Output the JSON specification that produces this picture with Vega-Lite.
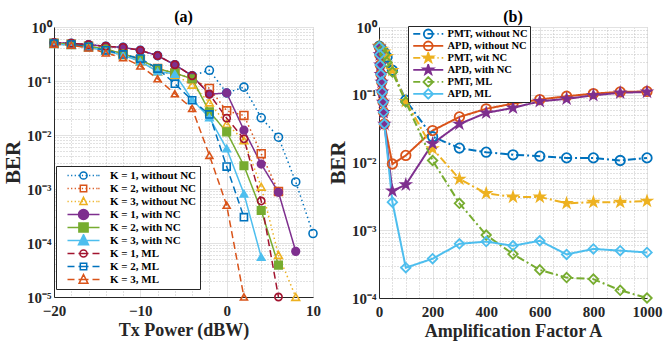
{
  "$schema": "https://vega.github.io/schema/vega-lite/v6.json",
  "padding": {"left": 2, "top": 8, "right": 0, "bottom": 0},
  "spacing": 6,
  "config": {
    "font": "Liberation Serif",
    "view": {"stroke": "#bdbdbd"},
    "title": {"font": "Liberation Serif", "fontSize": 16, "fontWeight": "bold", "color": "black", "offset": 0, "dy": 9, "frame": "group"},
    "axis": {
      "labelFont": "Liberation Serif", "labelFontWeight": "bold", "labelFontSize": 15, "labelColor": "#262626",
      "titleFont": "Liberation Serif", "titleFontWeight": "bold", "titleColor": "#262626",
      "domainColor": "#262626", "domainWidth": 1, "gridColor": "#e2e2e2", "gridWidth": 1,
      "labelFlush": false, "labelOverlap": false
    }
  },
  "resolve": {"scale": {"x": "independent", "y": "independent", "stroke": "independent", "fill": "independent", "shape": "independent", "size": "independent", "strokeDash": "independent", "strokeWidth": "independent"}},
  "datasets": {
    "a": [
      {"s": "K = 1, without NC", "x": -20, "ber": 0.51}, {"s": "K = 1, without NC", "x": -18, "ber": 0.5}, {"s": "K = 1, without NC", "x": -16, "ber": 0.47}, {"s": "K = 1, without NC", "x": -14, "ber": 0.44}, {"s": "K = 1, without NC", "x": -12, "ber": 0.42}, {"s": "K = 1, without NC", "x": -10, "ber": 0.37}, {"s": "K = 1, without NC", "x": -8, "ber": 0.295}, {"s": "K = 1, without NC", "x": -6, "ber": 0.2}, {"s": "K = 1, without NC", "x": -4, "ber": 0.125}, {"s": "K = 1, without NC", "x": -2, "ber": 0.158}, {"s": "K = 1, without NC", "x": 0, "ber": 0.06}, {"s": "K = 1, without NC", "x": 2, "ber": 0.077}, {"s": "K = 1, without NC", "x": 4, "ber": 0.0208}, {"s": "K = 1, without NC", "x": 6, "ber": 0.0091}, {"s": "K = 1, without NC", "x": 8, "ber": 0.00135}, {"s": "K = 1, without NC", "x": 10, "ber": 0.00015},
      {"s": "K = 2, without NC", "x": -20, "ber": 0.5}, {"s": "K = 2, without NC", "x": -18, "ber": 0.48}, {"s": "K = 2, without NC", "x": -16, "ber": 0.44}, {"s": "K = 2, without NC", "x": -14, "ber": 0.39}, {"s": "K = 2, without NC", "x": -12, "ber": 0.32}, {"s": "K = 2, without NC", "x": -10, "ber": 0.25}, {"s": "K = 2, without NC", "x": -8, "ber": 0.17}, {"s": "K = 2, without NC", "x": -6, "ber": 0.14}, {"s": "K = 2, without NC", "x": -4, "ber": 0.11}, {"s": "K = 2, without NC", "x": -2, "ber": 0.073}, {"s": "K = 2, without NC", "x": 0, "ber": 0.028}, {"s": "K = 2, without NC", "x": 2, "ber": 0.023}, {"s": "K = 2, without NC", "x": 4, "ber": 0.0045}, {"s": "K = 2, without NC", "x": 6, "ber": 0.0009},
      {"s": "K = 3, without NC", "x": -20, "ber": 0.48}, {"s": "K = 3, without NC", "x": -18, "ber": 0.46}, {"s": "K = 3, without NC", "x": -16, "ber": 0.42}, {"s": "K = 3, without NC", "x": -14, "ber": 0.36}, {"s": "K = 3, without NC", "x": -12, "ber": 0.3}, {"s": "K = 3, without NC", "x": -10, "ber": 0.23}, {"s": "K = 3, without NC", "x": -8, "ber": 0.15}, {"s": "K = 3, without NC", "x": -6, "ber": 0.13}, {"s": "K = 3, without NC", "x": -4, "ber": 0.085}, {"s": "K = 3, without NC", "x": -2, "ber": 0.04}, {"s": "K = 3, without NC", "x": 0, "ber": 0.016}, {"s": "K = 3, without NC", "x": 2, "ber": 0.008}, {"s": "K = 3, without NC", "x": 4, "ber": 0.0011}, {"s": "K = 3, without NC", "x": 6, "ber": 0.00006}, {"s": "K = 3, without NC", "x": 8, "ber": 0.00001},
      {"s": "K = 1, with NC", "x": -20, "ber": 0.51}, {"s": "K = 1, with NC", "x": -18, "ber": 0.5}, {"s": "K = 1, with NC", "x": -16, "ber": 0.47}, {"s": "K = 1, with NC", "x": -14, "ber": 0.44}, {"s": "K = 1, with NC", "x": -12, "ber": 0.42}, {"s": "K = 1, with NC", "x": -10, "ber": 0.37}, {"s": "K = 1, with NC", "x": -8, "ber": 0.295}, {"s": "K = 1, with NC", "x": -6, "ber": 0.2}, {"s": "K = 1, with NC", "x": -4, "ber": 0.125}, {"s": "K = 1, with NC", "x": -2, "ber": 0.057}, {"s": "K = 1, with NC", "x": 0, "ber": 0.06}, {"s": "K = 1, with NC", "x": 2, "ber": 0.0123}, {"s": "K = 1, with NC", "x": 4, "ber": 0.0029}, {"s": "K = 1, with NC", "x": 6, "ber": 0.00087}, {"s": "K = 1, with NC", "x": 8, "ber": 0.00007},
      {"s": "K = 2, with NC", "x": -20, "ber": 0.5}, {"s": "K = 2, with NC", "x": -18, "ber": 0.48}, {"s": "K = 2, with NC", "x": -16, "ber": 0.44}, {"s": "K = 2, with NC", "x": -14, "ber": 0.39}, {"s": "K = 2, with NC", "x": -12, "ber": 0.32}, {"s": "K = 2, with NC", "x": -10, "ber": 0.25}, {"s": "K = 2, with NC", "x": -8, "ber": 0.17}, {"s": "K = 2, with NC", "x": -6, "ber": 0.14}, {"s": "K = 2, with NC", "x": -4, "ber": 0.11}, {"s": "K = 2, with NC", "x": -2, "ber": 0.027}, {"s": "K = 2, with NC", "x": 0, "ber": 0.0114}, {"s": "K = 2, with NC", "x": 2, "ber": 0.0027}, {"s": "K = 2, with NC", "x": 4, "ber": 0.0004}, {"s": "K = 2, with NC", "x": 6, "ber": 0.000039},
      {"s": "K = 3, with NC", "x": -20, "ber": 0.48}, {"s": "K = 3, with NC", "x": -18, "ber": 0.46}, {"s": "K = 3, with NC", "x": -16, "ber": 0.42}, {"s": "K = 3, with NC", "x": -14, "ber": 0.36}, {"s": "K = 3, with NC", "x": -12, "ber": 0.3}, {"s": "K = 3, with NC", "x": -10, "ber": 0.23}, {"s": "K = 3, with NC", "x": -8, "ber": 0.15}, {"s": "K = 3, with NC", "x": -6, "ber": 0.135}, {"s": "K = 3, with NC", "x": -4, "ber": 0.045}, {"s": "K = 3, with NC", "x": -2, "ber": 0.021}, {"s": "K = 3, with NC", "x": 0, "ber": 0.0056}, {"s": "K = 3, with NC", "x": 2, "ber": 0.00082}, {"s": "K = 3, with NC", "x": 4, "ber": 0.000055},
      {"s": "K = 1, ML", "x": -20, "ber": 0.51}, {"s": "K = 1, ML", "x": -18, "ber": 0.5}, {"s": "K = 1, ML", "x": -16, "ber": 0.47}, {"s": "K = 1, ML", "x": -14, "ber": 0.44}, {"s": "K = 1, ML", "x": -12, "ber": 0.42}, {"s": "K = 1, ML", "x": -10, "ber": 0.37}, {"s": "K = 1, ML", "x": -8, "ber": 0.295}, {"s": "K = 1, ML", "x": -6, "ber": 0.2}, {"s": "K = 1, ML", "x": -4, "ber": 0.125}, {"s": "K = 1, ML", "x": -2, "ber": 0.057}, {"s": "K = 1, ML", "x": 0, "ber": 0.0205}, {"s": "K = 1, ML", "x": 2, "ber": 0.0085}, {"s": "K = 1, ML", "x": 4, "ber": 0.0006}, {"s": "K = 1, ML", "x": 6, "ber": 0.00001},
      {"s": "K = 2, ML", "x": -20, "ber": 0.49}, {"s": "K = 2, ML", "x": -18, "ber": 0.47}, {"s": "K = 2, ML", "x": -16, "ber": 0.43}, {"s": "K = 2, ML", "x": -14, "ber": 0.37}, {"s": "K = 2, ML", "x": -12, "ber": 0.31}, {"s": "K = 2, ML", "x": -10, "ber": 0.26}, {"s": "K = 2, ML", "x": -8, "ber": 0.17}, {"s": "K = 2, ML", "x": -6, "ber": 0.089}, {"s": "K = 2, ML", "x": -4, "ber": 0.044}, {"s": "K = 2, ML", "x": -2, "ber": 0.024}, {"s": "K = 2, ML", "x": 0, "ber": 0.0026}, {"s": "K = 2, ML", "x": 2, "ber": 0.0003},
      {"s": "K = 3, ML", "x": -20, "ber": 0.48}, {"s": "K = 3, ML", "x": -18, "ber": 0.46}, {"s": "K = 3, ML", "x": -16, "ber": 0.41}, {"s": "K = 3, ML", "x": -14, "ber": 0.33}, {"s": "K = 3, ML", "x": -12, "ber": 0.27}, {"s": "K = 3, ML", "x": -10, "ber": 0.19}, {"s": "K = 3, ML", "x": -8, "ber": 0.11}, {"s": "K = 3, ML", "x": -6, "ber": 0.058}, {"s": "K = 3, ML", "x": -4, "ber": 0.031}, {"s": "K = 3, ML", "x": -2, "ber": 0.0042}, {"s": "K = 3, ML", "x": 0, "ber": 0.0005}, {"s": "K = 3, ML", "x": 2, "ber": 0.00001}
    ],
    "b": [
      {"s": "PMT, without NC", "a": 1, "ber": 0.52}, {"s": "PMT, without NC", "a": 10, "ber": 0.47}, {"s": "PMT, without NC", "a": 20, "ber": 0.42}, {"s": "PMT, without NC", "a": 30, "ber": 0.36}, {"s": "PMT, without NC", "a": 50, "ber": 0.23}, {"s": "PMT, without NC", "a": 100, "ber": 0.083}, {"s": "PMT, without NC", "a": 200, "ber": 0.024}, {"s": "PMT, without NC", "a": 300, "ber": 0.0163}, {"s": "PMT, without NC", "a": 400, "ber": 0.0142}, {"s": "PMT, without NC", "a": 500, "ber": 0.013}, {"s": "PMT, without NC", "a": 600, "ber": 0.0124}, {"s": "PMT, without NC", "a": 700, "ber": 0.0117}, {"s": "PMT, without NC", "a": 800, "ber": 0.0117}, {"s": "PMT, without NC", "a": 900, "ber": 0.0107}, {"s": "PMT, without NC", "a": 1000, "ber": 0.0117},
      {"s": "APD, without NC", "a": 1, "ber": 0.51}, {"s": "APD, without NC", "a": 3, "ber": 0.39}, {"s": "APD, without NC", "a": 5, "ber": 0.275}, {"s": "APD, without NC", "a": 7, "ber": 0.2}, {"s": "APD, without NC", "a": 10, "ber": 0.154}, {"s": "APD, without NC", "a": 12, "ber": 0.11}, {"s": "APD, without NC", "a": 15, "ber": 0.078}, {"s": "APD, without NC", "a": 17, "ber": 0.055}, {"s": "APD, without NC", "a": 20, "ber": 0.037}, {"s": "APD, without NC", "a": 50, "ber": 0.0095}, {"s": "APD, without NC", "a": 100, "ber": 0.0127}, {"s": "APD, without NC", "a": 200, "ber": 0.0296}, {"s": "APD, without NC", "a": 300, "ber": 0.047}, {"s": "APD, without NC", "a": 400, "ber": 0.062}, {"s": "APD, without NC", "a": 500, "ber": 0.074}, {"s": "APD, without NC", "a": 600, "ber": 0.085}, {"s": "APD, without NC", "a": 700, "ber": 0.095}, {"s": "APD, without NC", "a": 800, "ber": 0.104}, {"s": "APD, without NC", "a": 900, "ber": 0.11}, {"s": "APD, without NC", "a": 1000, "ber": 0.112},
      {"s": "PMT, wit NC", "a": 1, "ber": 0.52}, {"s": "PMT, wit NC", "a": 10, "ber": 0.47}, {"s": "PMT, wit NC", "a": 20, "ber": 0.43}, {"s": "PMT, wit NC", "a": 30, "ber": 0.37}, {"s": "PMT, wit NC", "a": 50, "ber": 0.23}, {"s": "PMT, wit NC", "a": 100, "ber": 0.08}, {"s": "PMT, wit NC", "a": 200, "ber": 0.016}, {"s": "PMT, wit NC", "a": 300, "ber": 0.0057}, {"s": "PMT, wit NC", "a": 400, "ber": 0.0035}, {"s": "PMT, wit NC", "a": 500, "ber": 0.0031}, {"s": "PMT, wit NC", "a": 600, "ber": 0.0031}, {"s": "PMT, wit NC", "a": 700, "ber": 0.0025}, {"s": "PMT, wit NC", "a": 800, "ber": 0.0026}, {"s": "PMT, wit NC", "a": 900, "ber": 0.0026}, {"s": "PMT, wit NC", "a": 1000, "ber": 0.0027},
      {"s": "APD, with NC", "a": 1, "ber": 0.51}, {"s": "APD, with NC", "a": 3, "ber": 0.39}, {"s": "APD, with NC", "a": 5, "ber": 0.275}, {"s": "APD, with NC", "a": 7, "ber": 0.2}, {"s": "APD, with NC", "a": 10, "ber": 0.154}, {"s": "APD, with NC", "a": 12, "ber": 0.11}, {"s": "APD, with NC", "a": 15, "ber": 0.078}, {"s": "APD, with NC", "a": 17, "ber": 0.055}, {"s": "APD, with NC", "a": 20, "ber": 0.037}, {"s": "APD, with NC", "a": 50, "ber": 0.0038}, {"s": "APD, with NC", "a": 100, "ber": 0.0047}, {"s": "APD, with NC", "a": 200, "ber": 0.019}, {"s": "APD, with NC", "a": 300, "ber": 0.037}, {"s": "APD, with NC", "a": 400, "ber": 0.054}, {"s": "APD, with NC", "a": 500, "ber": 0.064}, {"s": "APD, with NC", "a": 600, "ber": 0.08}, {"s": "APD, with NC", "a": 700, "ber": 0.087}, {"s": "APD, with NC", "a": 800, "ber": 0.098}, {"s": "APD, with NC", "a": 900, "ber": 0.107}, {"s": "APD, with NC", "a": 1000, "ber": 0.11},
      {"s": "PMT, ML", "a": 1, "ber": 0.52}, {"s": "PMT, ML", "a": 10, "ber": 0.46}, {"s": "PMT, ML", "a": 20, "ber": 0.39}, {"s": "PMT, ML", "a": 30, "ber": 0.3}, {"s": "PMT, ML", "a": 50, "ber": 0.216}, {"s": "PMT, ML", "a": 100, "ber": 0.078}, {"s": "PMT, ML", "a": 200, "ber": 0.0107}, {"s": "PMT, ML", "a": 300, "ber": 0.0025}, {"s": "PMT, ML", "a": 400, "ber": 0.00085}, {"s": "PMT, ML", "a": 500, "ber": 0.000445}, {"s": "PMT, ML", "a": 600, "ber": 0.00026}, {"s": "PMT, ML", "a": 700, "ber": 0.0002}, {"s": "PMT, ML", "a": 800, "ber": 0.00019}, {"s": "PMT, ML", "a": 900, "ber": 0.00013}, {"s": "PMT, ML", "a": 1000, "ber": 0.0001},
      {"s": "APD, ML", "a": 1, "ber": 0.51}, {"s": "APD, ML", "a": 3, "ber": 0.39}, {"s": "APD, ML", "a": 5, "ber": 0.275}, {"s": "APD, ML", "a": 7, "ber": 0.2}, {"s": "APD, ML", "a": 10, "ber": 0.154}, {"s": "APD, ML", "a": 12, "ber": 0.11}, {"s": "APD, ML", "a": 15, "ber": 0.078}, {"s": "APD, ML", "a": 17, "ber": 0.055}, {"s": "APD, ML", "a": 20, "ber": 0.037}, {"s": "APD, ML", "a": 50, "ber": 0.0026}, {"s": "APD, ML", "a": 100, "ber": 0.00028}, {"s": "APD, ML", "a": 200, "ber": 0.00038}, {"s": "APD, ML", "a": 300, "ber": 0.00063}, {"s": "APD, ML", "a": 400, "ber": 0.00068}, {"s": "APD, ML", "a": 500, "ber": 0.00059}, {"s": "APD, ML", "a": 600, "ber": 0.0007}, {"s": "APD, ML", "a": 700, "ber": 0.00044}, {"s": "APD, ML", "a": 800, "ber": 0.00053}, {"s": "APD, ML", "a": 900, "ber": 0.0005}, {"s": "APD, ML", "a": 1000, "ber": 0.00047}
    ]
  },
  "hconcat": [
    {
      "width": 259, "height": 270,
      "data": {"name": "a"},
      "title": {"text": "(a)"},
      "layer": [
        {
          "mark": {"type": "point", "opacity": 0},
          "encoding": {
            "x": {"field": "x", "type": "quantitative", "scale": {"domain": [-20, 10], "nice": false, "zero": false},
              "axis": {"orient": "bottom", "values": [-18, -16, -14, -12, -8, -6, -4, -2, 2, 4, 6, 8], "grid": true, "gridDash": [1, 2], "gridColor": "#c2c2c2", "labels": false, "ticks": false, "domain": false, "title": null}},
            "y": {"field": "ber", "type": "quantitative", "scale": {"type": "log", "domain": [0.00001, 1], "nice": false},
              "axis": {"orient": "left", "values": [0.00002, 0.00003, 0.00004, 0.00005, 0.00006, 0.00007, 0.00008, 0.00009, 0.0002, 0.0003, 0.0004, 0.0005, 0.0006, 0.0007, 0.0008, 0.0009, 0.002, 0.003, 0.004, 0.005, 0.006, 0.007, 0.008, 0.009, 0.02, 0.03, 0.04, 0.05, 0.06, 0.07, 0.08, 0.09, 0.2, 0.3, 0.4, 0.5, 0.6, 0.7, 0.8, 0.9], "grid": true, "gridDash": [1, 2], "gridColor": "#c2c2c2", "labels": false, "ticks": false, "domain": false, "title": null}}
          }
        },
        {
          "mark": {"type": "line"},
          "encoding": {
            "x": {"field": "x", "type": "quantitative", "scale": {"domain": [-20, 10], "nice": false, "zero": false},
              "axis": {"orient": "bottom", "values": [-20, -10, 0, 10], "grid": true, "title": "Tx Power (dBW)", "titleFontSize": 18, "labelPadding": 6, "titlePadding": 3, "ticks": false}},
            "y": {"field": "ber", "type": "quantitative", "scale": {"type": "log", "domain": [0.00001, 1], "nice": false},
              "axis": {"orient": "left", "values": [0.00001, 0.0001, 0.001, 0.01, 0.1, 1], "grid": true, "title": "BER", "titleFontSize": 21, "labelPadding": 3, "titlePadding": 3, "ticks": false,
                "labelExpr": "'10' + ['⁰','⁻¹','⁻²','⁻³','⁻⁴','⁻⁵'][round(-log(datum.value)/LN10)]"}},
            "stroke": {"field": "s", "type": "nominal", "legend": null,
              "scale": {"domain": ["K = 1, without NC", "K = 2, without NC", "K = 3, without NC", "K = 1, with NC", "K = 2, with NC", "K = 3, with NC", "K = 1, ML", "K = 2, ML", "K = 3, ML"],
                "range": ["#0072BD", "#D95319", "#EDB120", "#7E2F8E", "#77AC30", "#4DBEEE", "#A2142F", "#0072BD", "#D95319"]}},
            "strokeDash": {"field": "s", "type": "nominal", "legend": null,
              "scale": {"domain": ["K = 1, without NC", "K = 2, without NC", "K = 3, without NC", "K = 1, with NC", "K = 2, with NC", "K = 3, with NC", "K = 1, ML", "K = 2, ML", "K = 3, ML"],
                "range": [[1.5, 3], [1.5, 3], [1.5, 3], [1, 0], [1, 0], [1, 0], [7, 4], [7, 4], [7, 4]]}},
            "strokeWidth": {"field": "s", "type": "nominal", "legend": null,
              "scale": {"domain": ["K = 1, without NC", "K = 2, without NC", "K = 3, without NC", "K = 1, with NC", "K = 2, with NC", "K = 3, with NC", "K = 1, ML", "K = 2, ML", "K = 3, ML"],
                "range": [1.5, 1.5, 1.5, 3.2, 3.2, 3.2, 2.5, 2.5, 2.5]}}
          }
        },
        {
          "mark": {"type": "point", "opacity": 1, "strokeWidth": 1.6},
          "encoding": {
            "x": {"field": "x", "type": "quantitative", "axis": null},
            "y": {"field": "ber", "type": "quantitative", "axis": null},
            "stroke": {"field": "s", "type": "nominal", "legend": null,
              "scale": {"domain": ["K = 1, without NC", "K = 2, without NC", "K = 3, without NC", "K = 1, with NC", "K = 2, with NC", "K = 3, with NC", "K = 1, ML", "K = 2, ML", "K = 3, ML"],
                "range": ["#0072BD", "#D95319", "#EDB120", "#7E2F8E", "#77AC30", "#4DBEEE", "#A2142F", "#0072BD", "#D95319"]}},
            "fill": {"field": "s", "type": "nominal", "legend": null,
              "scale": {"domain": ["K = 1, without NC", "K = 2, without NC", "K = 3, without NC", "K = 1, with NC", "K = 2, with NC", "K = 3, with NC", "K = 1, ML", "K = 2, ML", "K = 3, ML"],
                "range": ["transparent", "transparent", "transparent", "#7E2F8E", "#77AC30", "#4DBEEE", "transparent", "transparent", "transparent"]}},
            "shape": {"field": "s", "type": "nominal", "legend": null,
              "scale": {"domain": ["K = 1, without NC", "K = 2, without NC", "K = 3, without NC", "K = 1, with NC", "K = 2, with NC", "K = 3, with NC", "K = 1, ML", "K = 2, ML", "K = 3, ML"],
                "range": ["circle", "square", "triangle-up", "circle", "square", "triangle-up", "circle", "square", "triangle-up"]}},
            "size": {"field": "s", "type": "nominal", "legend": null,
              "scale": {"domain": ["K = 1, without NC", "K = 2, without NC", "K = 3, without NC", "K = 1, with NC", "K = 2, with NC", "K = 3, with NC", "K = 1, ML", "K = 2, ML", "K = 3, ML"],
                "range": [64, 49, 64, 121, 100, 144, 64, 49, 100]}}
          }
        },
        {
          "transform": [{"filter": "datum.x == -10"}],
          "mark": {"type": "point", "opacity": 0, "filled": false, "size": 16},
          "encoding": {
            "x": {"field": "x", "type": "quantitative", "axis": null},
            "y": {"field": "ber", "type": "quantitative", "axis": null},
            "stroke": {"field": "s", "type": "nominal",
              "scale": {"domain": ["K = 1, without NC", "K = 2, without NC", "K = 3, without NC", "K = 1, with NC", "K = 2, with NC", "K = 3, with NC", "K = 1, ML", "K = 2, ML", "K = 3, ML"],
                "range": ["#0072BD", "#D95319", "#EDB120", "#7E2F8E", "#77AC30", "#4DBEEE", "#A2142F", "#0072BD", "#D95319"]},
              "legend": {
                "orient": "none", "legendX": 2, "legendY": 139, "title": null,
                "symbolSize": 16, "symbolOffset": 5, "symbolStrokeWidth": 1.5, "symbolOpacity": 1, "labelOffset": 35, "padding": 3, "rowPadding": 0, "clipHeight": 13,
                "fillColor": "white", "strokeColor": "#262626", "cornerRadius": 0,
                "labelFont": "Liberation Serif", "labelFontSize": 11, "labelFontWeight": "bold", "labelColor": "black", "labelLimit": 300
              }},
            "shape": {"field": "s", "type": "nominal", "legend": {"symbolOpacity": 1},
              "scale": {"domain": ["K = 1, without NC", "K = 2, without NC", "K = 3, without NC", "K = 1, with NC", "K = 2, with NC", "K = 3, with NC", "K = 1, ML", "K = 2, ML", "K = 3, ML"],
                "range": ["M-1,0h0.6M0.8,0h0.6M2.6,0h0.6M4.4,0h0.6M6.2,0h0.6M8,0h0.6M9.8,0h0.6M11.6,0h0.6M13.4,0h0.6M14.4,0h0.6M5.2,0A1.8,1.8 0 1,0 8.8,0A1.8,1.8 0 1,0 5.2,0Z", "M-1,0h0.6M0.8,0h0.6M2.6,0h0.6M4.4,0h0.6M6.2,0h0.6M8,0h0.6M9.8,0h0.6M11.6,0h0.6M13.4,0h0.6M14.4,0h0.6M5.4,-1.6H8.6V1.6H5.4Z", "M-1,0h0.6M0.8,0h0.6M2.6,0h0.6M4.4,0h0.6M6.2,0h0.6M8,0h0.6M9.8,0h0.6M11.6,0h0.6M13.4,0h0.6M14.4,0h0.6M7,-2.1L8.8,1.5L5.2,1.5Z", "M-1,0H15M4.5,0A2.5,2.5 0 1,0 9.5,0A2.5,2.5 0 1,0 4.5,0Z", "M-1,0H15M4.7,-2.3H9.3V2.3H4.7Z", "M-1,0H15M7,-2.9L9.5,2.1L4.5,2.1Z", "M-1,0H2.5M4.5,0H9.5M11.5,0H15M5.2,0A1.8,1.8 0 1,0 8.8,0A1.8,1.8 0 1,0 5.2,0Z", "M-1,0H2.5M4.5,0H9.5M11.5,0H15M5.4,-1.6H8.6V1.6H5.4Z", "M-1,0H2.5M4.5,0H9.5M11.5,0H15M7,-2.5L9.2,1.9L4.8,1.9Z"]}},
            "fill": {"field": "s", "type": "nominal", "legend": {"symbolOpacity": 1},
              "scale": {"domain": ["K = 1, without NC", "K = 2, without NC", "K = 3, without NC", "K = 1, with NC", "K = 2, with NC", "K = 3, with NC", "K = 1, ML", "K = 2, ML", "K = 3, ML"],
                "range": ["transparent", "transparent", "transparent", "#7E2F8E", "#77AC30", "#4DBEEE", "transparent", "transparent", "transparent"]}},
            "strokeWidth": {"field": "s", "type": "nominal", "legend": {"symbolOpacity": 1},
              "scale": {"domain": ["K = 1, without NC", "K = 2, without NC", "K = 3, without NC", "K = 1, with NC", "K = 2, with NC", "K = 3, with NC", "K = 1, ML", "K = 2, ML", "K = 3, ML"],
                "range": [1.5, 1.5, 1.5, 3, 3, 3, 2.5, 2.5, 2.5]}}
          }
        }
      ],
      "resolve": {"axis": {"x": "independent", "y": "independent"}, "scale": {"stroke": "independent", "fill": "independent", "shape": "independent", "strokeWidth": "independent", "size": "independent", "strokeDash": "independent"}}
    },
    {
      "width": 268, "height": 271,
      "data": {"name": "b"},
      "title": {"text": "(b)"},
      "layer": [
        {
          "mark": {"type": "point", "opacity": 0},
          "encoding": {
            "x": {"field": "a", "type": "quantitative", "scale": {"domain": [0, 1000], "nice": false},
              "axis": {"orient": "bottom", "values": [50, 100, 150, 250, 300, 350, 450, 500, 550, 650, 700, 750, 850, 900, 950], "grid": true, "gridDash": [1, 2], "gridColor": "#c2c2c2", "labels": false, "ticks": false, "domain": false, "title": null}},
            "y": {"field": "ber", "type": "quantitative", "scale": {"type": "log", "domain": [0.0001, 1], "nice": false},
              "axis": {"orient": "left", "values": [0.0002, 0.0003, 0.0004, 0.0005, 0.0006, 0.0007, 0.0008, 0.0009, 0.002, 0.003, 0.004, 0.005, 0.006, 0.007, 0.008, 0.009, 0.02, 0.03, 0.04, 0.05, 0.06, 0.07, 0.08, 0.09, 0.2, 0.3, 0.4, 0.5, 0.6, 0.7, 0.8, 0.9], "grid": true, "gridDash": [1, 2], "gridColor": "#c2c2c2", "labels": false, "ticks": false, "domain": false, "title": null}}
          }
        },
        {
          "mark": {"type": "line"},
          "encoding": {
            "x": {"field": "a", "type": "quantitative", "scale": {"domain": [0, 1000], "nice": false},
              "axis": {"orient": "bottom", "values": [0, 200, 400, 600, 800, 1000], "format": "d", "grid": true, "title": "Amplification Factor A", "titleFontSize": 18, "labelPadding": 6, "titlePadding": 3, "ticks": false}},
            "y": {"field": "ber", "type": "quantitative", "scale": {"type": "log", "domain": [0.0001, 1], "nice": false},
              "axis": {"orient": "left", "values": [0.0001, 0.001, 0.01, 0.1, 1], "grid": true, "title": "BER", "titleFontSize": 21, "labelPadding": 3, "titlePadding": 3, "ticks": false,
                "labelExpr": "'10' + ['⁰','⁻¹','⁻²','⁻³','⁻⁴','⁻⁵'][round(-log(datum.value)/LN10)]"}},
            "stroke": {"field": "s", "type": "nominal", "legend": null,
              "scale": {"domain": ["PMT, without NC", "APD, without NC", "PMT, wit NC", "APD, with NC", "PMT, ML", "APD, ML"],
                "range": ["#0072BD", "#D95319", "#EDB120", "#7E2F8E", "#77AC30", "#4DBEEE"]}},
            "strokeDash": {"field": "s", "type": "nominal", "legend": null,
              "scale": {"domain": ["PMT, without NC", "APD, without NC", "PMT, wit NC", "APD, with NC", "PMT, ML", "APD, ML"],
                "range": [[8, 3, 2, 3], [1, 0], [8, 3, 2, 3], [1, 0], [8, 3, 2, 3], [1, 0]]}},
            "strokeWidth": {"field": "s", "type": "nominal", "legend": null,
              "scale": {"domain": ["PMT, without NC", "APD, without NC", "PMT, wit NC", "APD, with NC", "PMT, ML", "APD, ML"],
                "range": [2, 2, 2, 2, 2, 2]}}
          }
        },
        {
          "mark": {"type": "point", "opacity": 1, "strokeWidth": 1.8},
          "encoding": {
            "x": {"field": "a", "type": "quantitative", "axis": null},
            "y": {"field": "ber", "type": "quantitative", "axis": null},
            "stroke": {"field": "s", "type": "nominal", "legend": null,
              "scale": {"domain": ["PMT, without NC", "APD, without NC", "PMT, wit NC", "APD, with NC", "PMT, ML", "APD, ML"],
                "range": ["#0072BD", "#D95319", "#EDB120", "#7E2F8E", "#77AC30", "#4DBEEE"]}},
            "fill": {"field": "s", "type": "nominal", "legend": null,
              "scale": {"domain": ["PMT, without NC", "APD, without NC", "PMT, wit NC", "APD, with NC", "PMT, ML", "APD, ML"],
                "range": ["transparent", "transparent", "#EDB120", "#7E2F8E", "transparent", "transparent"]}},
            "shape": {"field": "s", "type": "nominal", "legend": null,
              "scale": {"domain": ["PMT, without NC", "APD, without NC", "PMT, wit NC", "APD, with NC", "PMT, ML", "APD, ML"],
                "range": ["circle", "circle", "M0,-1L0.225,-0.309L0.951,-0.309L0.363,0.118L0.588,0.809L0,0.382L-0.588,0.809L-0.363,0.118L-0.951,-0.309L-0.225,-0.309Z", "M0,-1L0.225,-0.309L0.951,-0.309L0.363,0.118L0.588,0.809L0,0.382L-0.588,0.809L-0.363,0.118L-0.951,-0.309L-0.225,-0.309Z", "diamond", "diamond"]}},
            "size": {"field": "s", "type": "nominal", "legend": null,
              "scale": {"domain": ["PMT, without NC", "APD, without NC", "PMT, wit NC", "APD, with NC", "PMT, ML", "APD, ML"],
                "range": [90, 90, 190, 190, 100, 100]}}
          }
        },
        {
          "transform": [{"filter": "datum.a == 200"}],
          "mark": {"type": "point", "opacity": 0, "filled": false, "size": 16},
          "encoding": {
            "x": {"field": "a", "type": "quantitative", "axis": null},
            "y": {"field": "ber", "type": "quantitative", "axis": null},
            "stroke": {"field": "s", "type": "nominal",
              "scale": {"domain": ["PMT, without NC", "APD, without NC", "PMT, wit NC", "APD, with NC", "PMT, ML", "APD, ML"],
                "range": ["#0072BD", "#D95319", "#EDB120", "#7E2F8E", "#77AC30", "#4DBEEE"]},
              "legend": {
                "orient": "none", "legendX": 29, "legendY": -1, "title": null,
                "symbolSize": 16, "symbolOffset": 0, "symbolStrokeWidth": 1.8, "symbolOpacity": 1, "labelOffset": 27, "padding": 2, "rowPadding": 0, "clipHeight": 11.8,
                "fillColor": "white", "strokeColor": "#262626", "cornerRadius": 0,
                "labelFont": "Liberation Serif", "labelFontSize": 10.5, "labelFontWeight": "bold", "labelColor": "black", "labelLimit": 300
              }},
            "shape": {"field": "s", "type": "nominal", "legend": {"symbolOpacity": 1},
              "scale": {"domain": ["PMT, without NC", "APD, without NC", "PMT, wit NC", "APD, with NC", "PMT, ML", "APD, ML"],
                "range": ["M-1,0H2.5M4,0H4.6M6.1,0H9.6M11.1,0H11.7M13.2,0H14M4.3,0A2.2,2.2 0 1,0 8.7,0A2.2,2.2 0 1,0 4.3,0Z", "M-1,0H14M4.3,0A2.2,2.2 0 1,0 8.7,0A2.2,2.2 0 1,0 4.3,0Z", "M-1,0H2.5M4,0H4.6M6.1,0H9.6M11.1,0H11.7M13.2,0H14M6.5,-2.6L7.09,-0.8L8.97,-0.8L7.44,0.31L8.03,2.1L6.5,0.99L4.97,2.1L5.56,0.31L4.03,-0.8L5.92,-0.8Z", "M-1,0H14M6.5,-2.6L7.09,-0.8L8.97,-0.8L7.44,0.31L8.03,2.1L6.5,0.99L4.97,2.1L5.56,0.31L4.03,-0.8L5.92,-0.8Z", "M-1,0H2.5M4,0H4.6M6.1,0H9.6M11.1,0H11.7M13.2,0H14M6.5,-2.4L8.9,0L6.5,2.4L4.1,0Z", "M-1,0H14M6.5,-2.4L8.9,0L6.5,2.4L4.1,0Z"]}},
            "fill": {"field": "s", "type": "nominal", "legend": {"symbolOpacity": 1},
              "scale": {"domain": ["PMT, without NC", "APD, without NC", "PMT, wit NC", "APD, with NC", "PMT, ML", "APD, ML"],
                "range": ["transparent", "transparent", "#EDB120", "#7E2F8E", "transparent", "transparent"]}}
          }
        }
      ],
      "resolve": {"axis": {"x": "independent", "y": "independent"}, "scale": {"stroke": "independent", "fill": "independent", "shape": "independent", "strokeWidth": "independent", "size": "independent", "strokeDash": "independent"}}
    }
  ]
}
